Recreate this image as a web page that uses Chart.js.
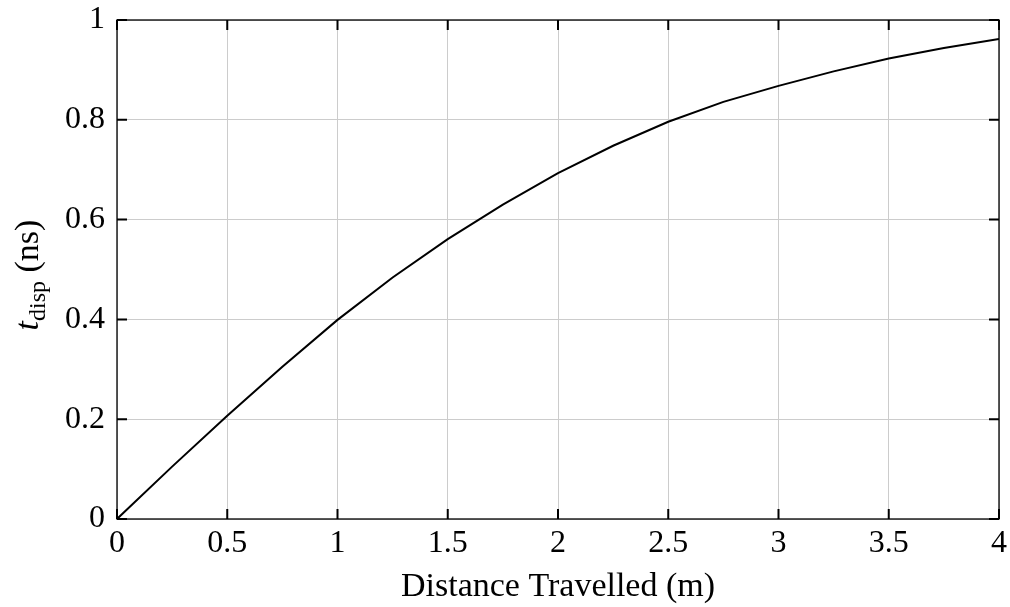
<!DOCTYPE html>
<html>
<head>
<meta charset="utf-8">
<script src="https://cdn.jsdelivr.net/npm/chart.js@4"></script>
<style>
html,body{margin:0;padding:0;background:#fff;}
#wrap{width:1010px;height:607px;}
</style>
</head>
<body>
<div id="wrap"><canvas id="c" width="1010" height="607"></canvas></div>
<script>
// ======= Data =======
const distance = [0, 0.25, 0.5, 0.75, 1.0, 1.25, 1.5, 1.75, 2.0, 2.25, 2.5, 2.75, 3.0, 3.25, 3.5, 3.75, 4.0];
const tDisp    = [0, 0.105, 0.207, 0.305, 0.399, 0.484, 0.561, 0.630, 0.693, 0.748, 0.796, 0.836, 0.868, 0.897, 0.923, 0.944, 0.962];
const xTicks = [0, 0.5, 1, 1.5, 2, 2.5, 3, 3.5, 4];
const yTicks = [0, 0.2, 0.4, 0.6, 0.8, 1];

const SERIF = '"Liberation Serif", "DejaVu Serif", serif';
const FS = 32;   // tick labels
const TFS = 34;  // axis titles
const fmtTick = v => String(+Number(v).toFixed(2));

// ======= Frame + inward ticks + y label =======
const framePlugin = {
  id: 'frame',
  afterDatasetsDraw(chart){
    const {ctx, chartArea: a, scales: {x, y}} = chart;
    ctx.save();
    ctx.strokeStyle = '#000';
    ctx.lineWidth = 1.3;
    ctx.strokeRect(a.left, a.top, a.right - a.left, a.bottom - a.top);
    ctx.lineWidth = 2;
    const L = 10;
    ctx.beginPath();
    for (const v of xTicks){
      const px = x.getPixelForValue(v);
      ctx.moveTo(px, a.bottom); ctx.lineTo(px, a.bottom - L);
      ctx.moveTo(px, a.top); ctx.lineTo(px, a.top + L);
    }
    for (const v of yTicks){
      const py = y.getPixelForValue(v);
      ctx.moveTo(a.left, py); ctx.lineTo(a.left + L, py);
      ctx.moveTo(a.right, py); ctx.lineTo(a.right - L, py);
    }
    ctx.stroke();

    // y title: t_disp (ns)
    const cx = 28, cy = 275;
    ctx.translate(cx, cy);
    ctx.rotate(-Math.PI / 2);
    ctx.fillStyle = '#000';
    ctx.textBaseline = 'alphabetic';
    const parts = [
      {t: 't', f: 'italic ' + TFS + 'px ' + SERIF, dy: 0},
      {t: 'disp', f: '24px ' + SERIF, dy: 7},
      {t: ' (ns)', f: TFS + 'px ' + SERIF, dy: 0}
    ];
    let w = 0;
    for (const p of parts){ ctx.font = p.f; p.w = ctx.measureText(p.t).width; w += p.w; }
    let xx = -w / 2;
    for (const p of parts){ ctx.font = p.f; ctx.fillText(p.t, xx, 10 + p.dy); xx += p.w; }
    ctx.restore();
  }
};

new Chart(document.getElementById('c'), {
  type: 'line',
  data: {
    datasets: [{
      data: distance.map((d, i) => ({x: d, y: tDisp[i]})),
      borderColor: '#000',
      borderWidth: 2,
      pointRadius: 0,
      tension: 0,
      fill: false
    }]
  },
  options: {
    responsive: false,
    animation: false,
    layout: {padding: {top: 20, right: 11, left: 0, bottom: 0}},
    plugins: {legend: {display: false}, tooltip: {enabled: false}},
    scales: {
      x: {
        type: 'linear', min: 0, max: 4,
        afterBuildTicks: s => { s.ticks = xTicks.map(v => ({value: v})); },
        afterFit: s => { s.height = 88; s.paddingLeft = 0; s.paddingRight = 0; },
        border: {display: false},
        grid: {color: '#cccccc', lineWidth: 1, drawTicks: false},
        ticks: {color: '#000', font: {family: SERIF, size: FS}, padding: 5, maxRotation: 0, callback: fmtTick},
        title: {display: true, text: 'Distance Travelled (m)', color: '#000', font: {family: SERIF, size: TFS}, padding: {top: 0, bottom: 0}}
      },
      y: {
        type: 'linear', min: 0, max: 1,
        afterBuildTicks: s => { s.ticks = yTicks.map(v => ({value: v})); },
        afterFit: s => { s.width = 117; s.paddingTop = 0; s.paddingBottom = 0; },
        border: {display: false},
        grid: {color: '#cccccc', lineWidth: 1, drawTicks: false},
        ticks: {color: '#000', font: {family: SERIF, size: FS}, padding: 12, callback: fmtTick}
      }
    }
  },
  plugins: [framePlugin]
});
</script>
</body>
</html>
